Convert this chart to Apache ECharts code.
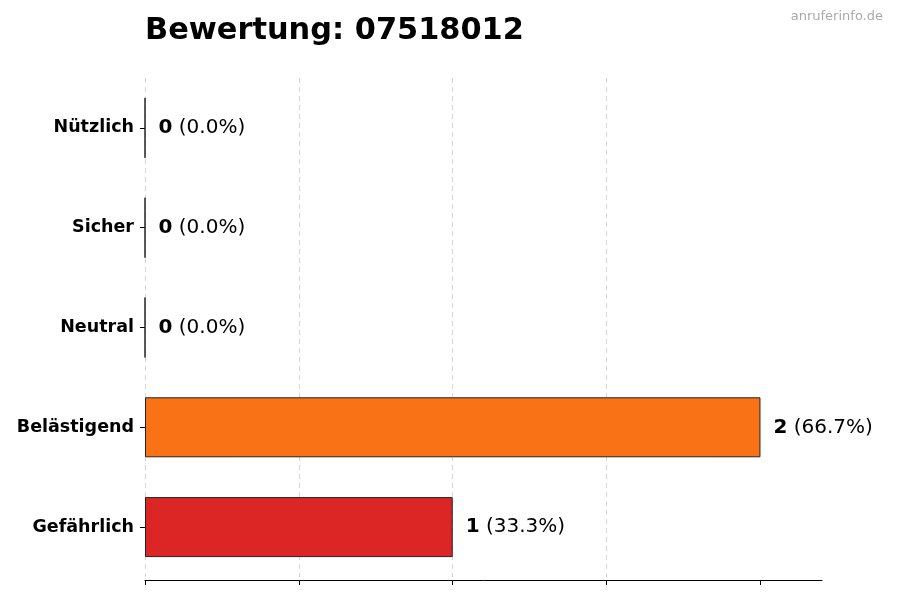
<!DOCTYPE html>
<html>
<head>
<meta charset="utf-8">
<script src="https://cdn.jsdelivr.net/npm/echarts@6/dist/echarts.min.js"></script>
<style>
  html, body { margin: 0; padding: 0; background: #fff; }
  #chart { width: 900px; height: 600px; }
</style>
</head>
<body>
<div id="chart"></div>
<script>
// Bewertung horizontal bars, bottom to top
const categories = ['Gefährlich', 'Belästigend', 'Neutral', 'Sicher', 'Nützlich'];
const counts = [1, 2, 0, 0, 0];
const percents = ['33.3%', '66.7%', '0.0%', '0.0%', '0.0%'];
const barColors = ['#dc2626', '#f97316', '#6b7280', '#16a34a', '#2563eb'];
const tickValues = [0, 0.5, 1, 1.5, 2];

const font = 'DejaVu Sans';
const chart = echarts.init(document.getElementById('chart'), null, { renderer: 'canvas' });

const barData = counts.map(function (v, i) {
  return {
    value: v,
    itemStyle: { color: barColors[i] }
  };
});

const option = {
  animation: false,
  backgroundColor: '#fff',
  textStyle: { fontFamily: font },
  title: [
    {
      text: 'Bewertung: 07518012',
      left: 140,
      top: 11,
      textStyle: { fontFamily: font, fontSize: 30.4, fontWeight: 'bold', color: '#000' }
    },
    {
      text: 'anruferinfo.de',
      right: 12,
      top: 5,
      textStyle: { fontFamily: font, fontSize: 13, fontWeight: 'normal', color: '#aaa' }
    }
  ],
  grid: { left: 145, right: 78, top: 78, bottom: 23, containLabel: false },
  xAxis: {
    type: 'value',
    min: 0,
    max: 2.2,
    interval: 0.5,
    offset: 3,
    axisLine: { show: true, lineStyle: { color: '#000', width: 1 } },
    axisTick: { show: true, length: 5, customValues: tickValues, lineStyle: { color: '#000' } },
    axisLabel: { show: false },
    splitLine: {
      show: true,
      showMaxLine: false,
      lineStyle: { color: '#d6d6d6', type: [5, 4], width: 1 }
    }
  },
  yAxis: {
    type: 'category',
    data: categories,
    axisLine: { show: false },
    axisTick: { show: true, alignWithLabel: true, length: 5, lineStyle: { color: '#000' } },
    axisLabel: { fontFamily: font, fontSize: 17.5, fontWeight: 'bold', color: '#000', margin: 11 }
  },
  series: [
    {
      type: 'bar',
      data: barData,
      barWidth: 60,
      itemStyle: { borderColor: '#222', borderWidth: 1 },
      label: {
        show: true,
        position: 'right',
        distance: 13,
        formatter: function (p) {
          return '{b|' + counts[p.dataIndex] + '}{n| (' + percents[p.dataIndex] + ')}';
        },
        rich: {
          b: { fontFamily: font, fontSize: 20, fontWeight: 'bold', color: '#000' },
          n: { fontFamily: font, fontSize: 20, color: '#000' }
        }
      }
    }
  ]
};

chart.setOption(option);
</script>
</body>
</html>
